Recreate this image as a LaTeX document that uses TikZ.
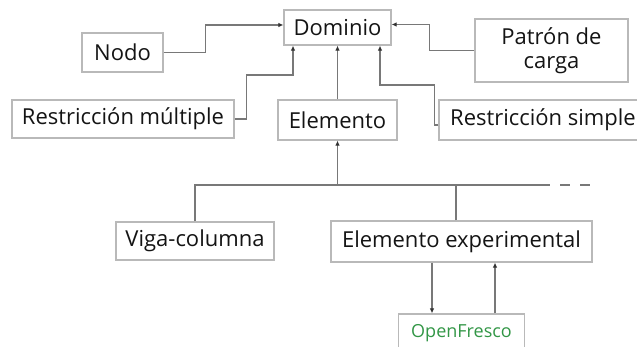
\documentclass[tikz,border=0pt]{standalone}
\usepackage{fontspec}
\setmainfont{Open Sans}
\usetikzlibrary{arrows.meta, positioning}

\definecolor{boxgray}{RGB}{185,185,185}
\definecolor{linegray}{RGB}{120,120,120}
\definecolor{tipgray}{RGB}{50,50,50}
\definecolor{textdark}{RGB}{20,20,20}
\definecolor{frescogreen}{RGB}{50,150,70}

\begin{document}
\begin{tikzpicture}[x=1pt, y=-1pt, >={Latex[length=5pt, width=4.5pt, color=tipgray]},
    every node/.style={
        rectangle,
        draw=boxgray,
        line width=1.2pt,
        inner sep=0pt,
        align=center,
        text=textdark,
        font=\fontsize{22}{24}\selectfont
    },
    link/.style={draw=linegray, line width=1.3pt}]

    \useasboundingbox (0,0) rectangle (637,347);

    % Boxes
    \node[minimum width=107pt, minimum height=35pt] (dominio) at (337.5,27.5) {Dominio};
    \node[minimum width=81pt, minimum height=39pt] (nodo) at (122.5,52.5) {Nodo};
    \node[minimum width=153pt, minimum height=63pt] (patron) at (551.5,50.5) {Patrón de\\carga};
    \node[minimum width=222pt, minimum height=38pt] (rmultiple) at (123,119) {Restricción múltiple};
    \node[minimum width=119pt, minimum height=40pt] (elemento) at (337.5,120) {Elemento};
    \node[minimum width=208pt, minimum height=40pt] (rsimple) at (543,120) {Restricción simple};
    \node[minimum width=158pt, minimum height=38pt] (viga) at (195,241) {Viga-columna};
    \node[minimum width=261pt, minimum height=41pt] (exper) at (461.5,241.5) {Elemento experimental};
    \node[minimum width=126pt, minimum height=38pt, text=frescogreen,
          font=\fontsize{18}{20}\selectfont] (fresco) at (461.5,333) {OpenFresco};

    % Links up to Dominio
    \draw[link, ->] (nodo.east) -- ++(42,0) |- ([yshift=2.5]dominio.west);
    \draw[link, ->] (rmultiple.east) -- ++(12,0) -- ++(0,-44) -| ([xshift=-44.5]dominio.south);
    \draw[link, ->] (elemento) -- (dominio);
    \draw[link, ->] ([yshift=-5]rsimple.west) -- ++(-4,0) -- ++(0,-40) -| ([xshift=42.5]dominio.south);
    \draw[link, ->] (patron.west) -- ++(-45,0) |- ([yshift=3]dominio.east);

    % Bus below Elemento
    \coordinate (busR) at (550,185);
    \coordinate (busEnd) at (590,185);
    \draw[link] (viga.north) |- (busR);
    \draw[link, ->] (elemento.south |- busR) -- (elemento.south);
    \draw[link] ([xshift=-5.5]exper.north) -- ([xshift=-5.5]exper.north |- busR);
    \draw[link, dash pattern=on 10pt off 10pt, dash phase=10pt] (busR) -- (busEnd);

    % OpenFresco
    \draw[link, ->] ([xshift=-29.5]exper.south) -- ([xshift=-29.5]fresco.north);
    \draw[link, ->] ([xshift=33.5]fresco.north) -- ([xshift=33.5]exper.south);
\end{tikzpicture}
\end{document}
